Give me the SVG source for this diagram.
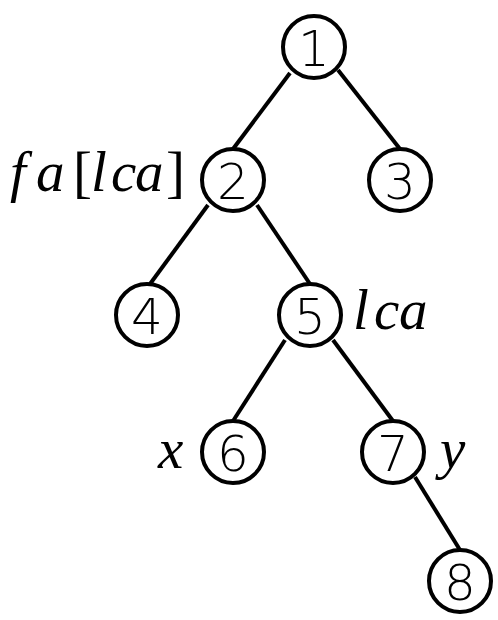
<svg xmlns="http://www.w3.org/2000/svg" width="498" height="620" viewBox="0 0 498 620">
<style>
.edge{stroke:#000;stroke-width:4;stroke-linecap:butt;fill:none}
.node circle{fill:#fff;stroke:#000;stroke-width:4}
.node text{font-family:"DejaVu Sans",sans-serif;font-weight:200;font-size:50px;text-anchor:middle;fill:#000}
text.math{font-family:"Liberation Serif","Times New Roman",serif;font-size:57px;fill:#000}
tspan.it,text.it{font-style:italic}
</style>
<rect width="498" height="620" fill="#fff"/>
<g id="connectors">
<line class="edge" x1="290" y1="73" x2="233" y2="149"/>
<line class="edge" x1="338" y1="70" x2="400" y2="149"/>
<line class="edge" x1="208" y1="205" x2="150" y2="284"/>
<line class="edge" x1="257" y1="205" x2="310" y2="284"/>
<line class="edge" x1="285" y1="340" x2="233" y2="421"/>
<line class="edge" x1="333" y1="340" x2="393" y2="421"/>
<line class="edge" x1="415" y1="477" x2="460" y2="550"/>
</g>
<g id="node1" class="node"><circle cx="314" cy="47" r="31"/><text x="314" y="66">1</text></g>
<g id="node2" class="node"><circle cx="233" cy="180" r="31"/><text x="233" y="199">2</text></g>
<g id="node3" class="node"><circle cx="400" cy="180" r="31"/><text x="400" y="199">3</text></g>
<g id="node4" class="node"><circle cx="147" cy="315" r="31"/><text x="147" y="334">4</text></g>
<g id="node5" class="node"><circle cx="310" cy="315" r="31"/><text x="310" y="334">5</text></g>
<g id="node6" class="node"><circle cx="233" cy="452" r="31"/><text x="233" y="471">6</text></g>
<g id="node7" class="node"><circle cx="393" cy="452" r="31"/><text x="393" y="471">7</text></g>
<g id="node8" class="node"><circle cx="460" cy="581" r="31"/><text x="460" y="600">8</text></g>
<g id="labels">
<text class="math" y="191"><tspan class="it" x="10 36">fa</tspan><tspan x="73">[</tspan><tspan class="it" x="91 111 135">lca</tspan><tspan x="166">]</tspan></text>
<text class="math it" x="353 374 399" y="329">lca</text>
<text class="math it" x="158" y="468">x</text>
<text class="math it" x="440" y="468">y</text>
</g>
</svg>
